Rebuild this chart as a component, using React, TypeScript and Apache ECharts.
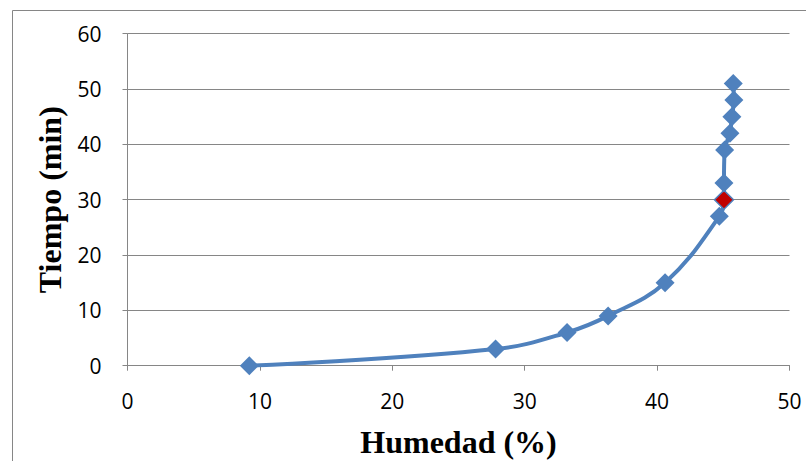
import React, { useEffect, useRef } from "react";
import * as echarts from "echarts";

// Moisture content (%) vs. drying time (min)
const humedad = [9.2, 27.8, 33.2, 36.3, 40.6, 44.7, 45.05, 45.05, 45.1, 45.5, 45.65, 45.8, 45.75];
const tiempo = [0, 3, 6, 9, 15, 27, 30, 33, 39, 42, 45, 48, 51];
// Index of the point drawn in red
const puntoDestacado = 6;

const xTicks = { min: 0, max: 50, interval: 10 };
const yTicks = { min: 0, max: 60, interval: 10 };

const BLUE = "#4F81BD";
const RED = "#C00000";
const GREY = "#868686";

export default function App() {
  const ref = useRef<HTMLDivElement>(null);

  useEffect(() => {
    if (!ref.current) return;
    const chart = echarts.init(ref.current, null, { renderer: "svg" });

    const data = humedad.map((h, i) => ({
      value: [h, tiempo[i]],
      itemStyle:
        i === puntoDestacado
          ? { color: RED, borderColor: BLUE, borderWidth: 1.5 }
          : { color: BLUE, borderColor: BLUE, borderWidth: 0 },
    }));

    const titleStyle = {
      fontFamily: "Liberation Serif",
      fontWeight: "bold",
      fontSize: 32,
      color: "#000",
    };
    const tickLabel = { fontFamily: "Open Sans", fontSize: 21, color: "#000" };

    chart.setOption({
      animation: false,
      backgroundColor: "#ffffff",
      graphic: [
        {
          type: "rect",
          shape: { x: 12.5, y: 10.5, width: 800, height: 460 },
          style: { fill: "none", stroke: GREY, lineWidth: 1 },
          silent: true,
        },
      ],
      grid: {
        left: 127.5,
        width: 662,
        top: 33.7,
        height: 332,
        containLabel: false,
        outerBoundsMode: "none",
      },
      xAxis: {
        type: "value",
        ...xTicks,
        name: "Humedad (%)",
        nameLocation: "middle",
        nameGap: 60,
        nameTextStyle: titleStyle,
        axisLine: { show: true, lineStyle: { color: GREY, width: 1 } },
        axisTick: { show: true, length: 5, inside: false, lineStyle: { color: GREY } },
        axisLabel: { ...tickLabel, margin: 25 },
        splitLine: { show: false },
      },
      yAxis: {
        type: "value",
        ...yTicks,
        name: "Tiempo (min)",
        nameLocation: "middle",
        nameGap: 62,
        nameTextStyle: titleStyle,
        axisLine: { show: true, lineStyle: { color: GREY, width: 1 } },
        axisTick: { show: true, length: 5, inside: false, lineStyle: { color: GREY } },
        axisLabel: { ...tickLabel, margin: 26 },
        splitLine: { show: true, lineStyle: { color: GREY, width: 1 } },
      },
      series: [
        {
          type: "line",
          data,
          smooth: 0.4,
          symbol: "diamond",
          symbolSize: 19,
          lineStyle: { color: BLUE, width: 4 },
          itemStyle: { color: BLUE },
          z: 3,
        },
      ],
    });

    return () => chart.dispose();
  }, []);

  return (
    <div
      ref={ref}
      style={{ position: "fixed", left: 0, top: 0, width: 806, height: 461 }}
    />
  );
}
